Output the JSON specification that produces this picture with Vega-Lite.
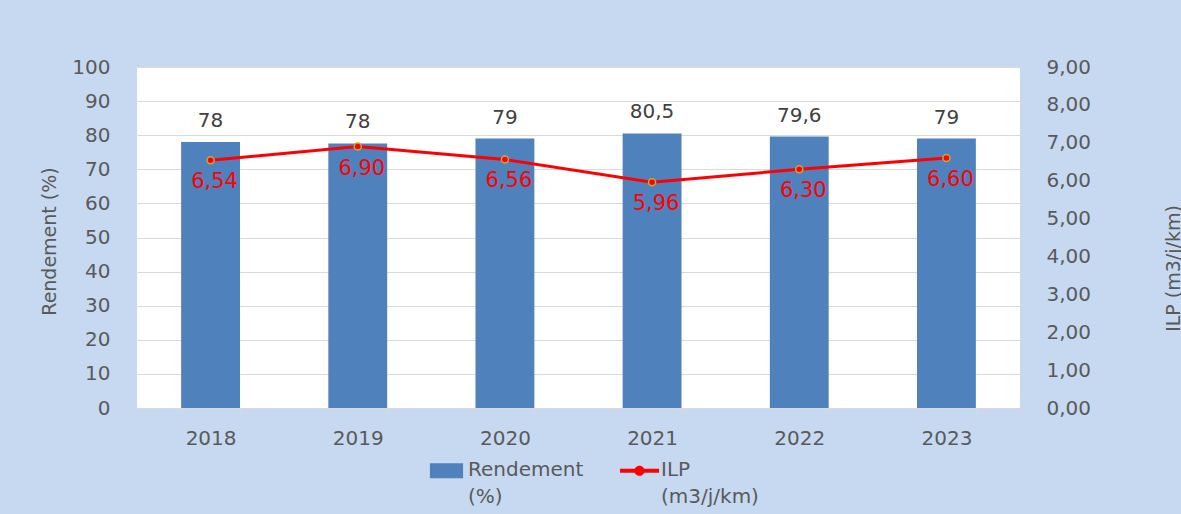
{
  "$schema": "https://vega.github.io/schema/vega-lite/v6.json",
  "width": 883,
  "height": 341,
  "autosize": {"type": "none"},
  "padding": {"left": 137, "top": 67, "right": 161, "bottom": 106},
  "background": "#C6D9F0",
  "config": {
    "view": {"fill": "white", "stroke": null},
    "font": "DejaVu Sans",
    "axis": {
      "labelFont": "DejaVu Sans",
      "labelFontSize": 20,
      "labelColor": "#595959",
      "titleFont": "DejaVu Sans",
      "titleFontSize": 19,
      "titleColor": "#595959",
      "titleFontWeight": "normal",
      "gridColor": "#D9D9D9",
      "domain": false,
      "ticks": false
    }
  },
  "data": {
    "values": [
      {"year": "2018", "rendement": 78, "rlabel": "78", "ilp": 6.54, "ilabel": "6,54"},
      {"year": "2019", "rendement": 77.6, "rlabel": "78", "ilp": 6.90, "ilabel": "6,90"},
      {"year": "2020", "rendement": 79, "rlabel": "79", "ilp": 6.56, "ilabel": "6,56"},
      {"year": "2021", "rendement": 80.5, "rlabel": "80,5", "ilp": 5.96, "ilabel": "5,96"},
      {"year": "2022", "rendement": 79.6, "rlabel": "79,6", "ilp": 6.30, "ilabel": "6,30"},
      {"year": "2023", "rendement": 79, "rlabel": "79", "ilp": 6.60, "ilabel": "6,60"}
    ]
  },
  "encoding": {
    "x": {
      "field": "year",
      "type": "nominal",
      "scale": {"paddingInner": 0.6, "paddingOuter": 0.3},
      "axis": {
        "title": null,
        "labelAngle": 0,
        "ticks": true,
        "tickBand": "extent",
        "tickColor": "#D9D9D9",
        "tickSize": 6,
        "domain": true,
        "domainColor": "#D9D9D9",
        "labelPadding": 14,
        "grid": false
      }
    }
  },
  "layer": [
    {
      "encoding": {
        "y": {
          "field": "rendement",
          "type": "quantitative",
          "scale": {"domain": [0, 100], "nice": false},
          "axis": {
            "orient": "left",
            "title": "Rendement (%)",
            "values": [0, 10, 20, 30, 40, 50, 60, 70, 80, 90, 100],
            "labelPadding": 27,
            "grid": true,
            "titleAngle": 270,
            "titleX": -88,
            "titleY": 174,
            "titleBaseline": "middle",
            "titleAlign": "center"
          }
        }
      },
      "layer": [
        {
          "mark": {"type": "bar", "color": "#4F81BD"},
          "encoding": {
            "color": {
              "datum": "Rendement (%)",
              "type": "nominal",
              "scale": {"domain": ["Rendement (%)", "ILP (m3/j/km)"], "range": ["#4F81BD", "#FF0000"]},
              "legend": {
                "orient": "none",
                "legendX": 290,
                "legendY": 384,
                "direction": "horizontal",
                "title": null,
                "labelFont": "DejaVu Sans",
                "labelFontSize": 20,
                "labelColor": "#595959",
                "labelBaseline": "top",
                "labelOffset": 2,
                "columnPadding": 36,
                "symbolSize": 1521,
                "labelExpr": "datum.value === 'Rendement (%)' ? ['Rendement', '(%)'] : ['ILP', '(m3/j/km)']",
                "encode": {
                  "labels": {
                    "update": {
                      "dy": {"value": -11},
                      "lineHeight": {"value": 27}
                    }
                  },
                  "symbols": {
                    "update": {
                      "shape": {"signal": "datum.value === 'Rendement (%)' ? 'M-0.85,-0.38H0.85V0.38H-0.85Z' : 'M-1,-0.1H1V0.1H-1Z M-0.26,0A0.26,0.26 0 1,1 0.26,0A0.26,0.26 0 1,1 -0.26,0Z'"},
                      "fill": {"signal": "datum.value === 'Rendement (%)' ? '#4F81BD' : '#FF0000'"},
                      "strokeWidth": {"value": 0},
                      "opacity": {"value": 1},
                      "fillOpacity": {"value": 1}
                    }
                  }
                }
              }
            }
          }
        },
        {
          "mark": {"type": "text", "baseline": "alphabetic", "dy": -15, "fontSize": 20, "color": "#404040", "font": "DejaVu Sans"},
          "encoding": {"text": {"field": "rlabel"}}
        }
      ]
    },
    {
      "encoding": {
        "y": {
          "field": "ilp",
          "type": "quantitative",
          "scale": {"domain": [0, 9], "nice": false},
          "axis": {
            "orient": "right",
            "title": "ILP (m3/j/km)",
            "values": [0, 1, 2, 3, 4, 5, 6, 7, 8, 9],
            "labelExpr": "replace(format(datum.value, '.2f'), '.', ',')",
            "labelPadding": 26,
            "grid": false,
            "titleAngle": 270,
            "titleX": 153,
            "titleY": 201,
            "titleBaseline": "middle",
            "titleAlign": "center"
          }
        }
      },
      "layer": [
        {
          "mark": {"type": "line", "strokeWidth": 3},
          "encoding": {"color": {"datum": "ILP (m3/j/km)", "type": "nominal"}}
        },
        {
          "mark": {"type": "point", "filled": true, "fill": "#FF0000", "stroke": "#C8A832", "strokeWidth": 1.5, "size": 50, "opacity": 1},
          "encoding": {}
        },
        {
          "mark": {"type": "text", "baseline": "middle", "dy": 22, "dx": 4, "fontSize": 21, "color": "#FF0000", "font": "DejaVu Sans"},
          "encoding": {"text": {"field": "ilabel"}}
        }
      ]
    }
  ],
  "resolve": {"scale": {"y": "independent"}}
}
